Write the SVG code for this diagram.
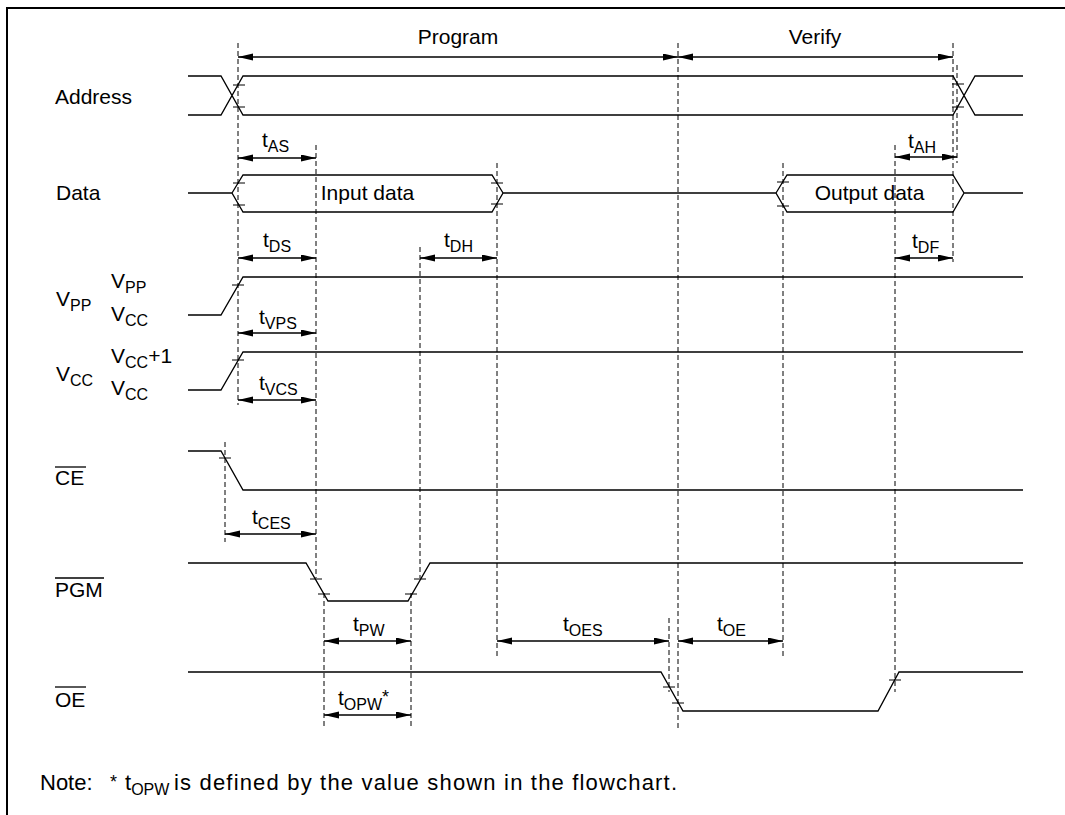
<svg xmlns="http://www.w3.org/2000/svg" width="1065" height="815" viewBox="0 0 1065 815">
<style>
text{font-family:"Liberation Sans",Arial,Helvetica,sans-serif;font-size:21px;fill:#000}
.sub{font-size:16px}
.sig{fill:none;stroke:#000;stroke-width:1.3}
.dash{fill:none;stroke:#000;stroke-width:1;stroke-dasharray:5,3}
.tick{fill:none;stroke:#000;stroke-width:1}
.arr{fill:none;stroke:#000;stroke-width:1.3;marker-start:url(#ah);marker-end:url(#ah)}
.ov{stroke:#000;stroke-width:1.3}
.mid{text-anchor:middle}
.note{font-size:22px}
</style>
<defs>
<marker id="ah" markerUnits="userSpaceOnUse" markerWidth="16" markerHeight="8" refX="15" refY="3.5" orient="auto-start-reverse">
<path d="M0,0 L15,3.5 L0,7 z" fill="#000"/>
</marker>
</defs>
<rect width="1065" height="815" fill="#fff"/>
<path d="M6,8 H1065 M7,8 V815" stroke="#000" stroke-width="2" fill="none"/>

<g id="address">
<text x="55" y="104">Address</text>
<path class="sig" d="M188,76 H221 L243,115 H953 L975,76 H1023 M188,115 H221 L243,76 H953 L975,115 H1023"/>
<path class="tick" d="M233,85 H245 M233,107 H245 M952,84 H964 M952,107 H964"/>
</g>

<g id="data">
<text x="56" y="200">Data</text>
<path class="sig" d="M188,193 H232 M232,193 L243,175 H492 L503,193 L492,212 H243 Z M503,193 H776 M776,193 L787,175 H953 L964,193 L953,212 H787 Z M964,193 H1023"/>
<text class="mid" x="367.5" y="200">Input data</text>
<text class="mid" x="869.5" y="200">Output data</text>
<path class="tick" d="M233,183 H245 M233,205 H245 M491,183 H503 M491,204 H503 M777,182 H789 M777,206 H789"/>
</g>

<g id="vpp">
<text x="56" y="306">V<tspan class="sub" dy="5">PP</tspan></text>
<text x="111" y="288">V<tspan class="sub" dy="5">PP</tspan></text>
<text x="111" y="321">V<tspan class="sub" dy="5">CC</tspan></text>
<path class="sig" d="M188,315 H221 L243,277 H1023"/>
<path class="tick" d="M232,285 H244"/>
</g>

<g id="vcc">
<text x="56" y="381">V<tspan class="sub" dy="5">CC</tspan></text>
<text x="111" y="363">V<tspan class="sub" dy="5">CC</tspan><tspan dy="-5">+1</tspan></text>
<text x="111" y="395">V<tspan class="sub" dy="5">CC</tspan></text>
<path class="sig" d="M188,390 H221 L243,352 H1023"/>
<path class="tick" d="M232,360 H244"/>
</g>

<g id="ce">
<text x="55" y="485">CE</text>
<path class="ov" d="M55,467 H86"/>
<path class="sig" d="M188,451 H221 L243,490 H1023"/>
<path class="tick" d="M219,458 H231"/>
</g>

<g id="pgm">
<text x="55" y="597">PGM</text>
<path class="ov" d="M55,578 H104"/>
<path class="sig" d="M188,563 H306 L328,601 H408 L430,563 H1023"/>
<path class="tick" d="M310,579 H322 M318,594 H330 M405,594 H417 M414,579 H426"/>
</g>

<g id="oe">
<text x="55" y="707">OE</text>
<path class="ov" d="M55,687 H86"/>
<path class="sig" d="M188,672 H661 L683,711 H878 L899,672 H1023"/>
<path class="tick" d="M663,687 H675 M672,703 H684 M889,680 H901"/>
</g>

<g id="guides">
<path class="dash" d="M238,43 V405 M678,43 V728 M953,43 V262 M957,65 V163 M316,145 V578 M497,163 V658 M420,247 V578 M895,145 V692 M783,163 V658 M225,442 V542 M324,593 V728 M411,593 V728 M669,618 V692"/>
</g>

<g id="connectors">
<path class="arr" d="M238,57 H678"/>
<path class="arr" d="M678,57 H953"/>
<path class="arr" d="M238,158 H316"/>
<path class="arr" d="M895,157 H957"/>
<path class="arr" d="M238,258 H316"/>
<path class="arr" d="M420,258 H497"/>
<path class="arr" d="M895,258 H953"/>
<path class="arr" d="M238,333 H316"/>
<path class="arr" d="M238,400 H316"/>
<path class="arr" d="M225,534 H316"/>
<path class="arr" d="M324,641 H411"/>
<path class="arr" d="M497,641 H669"/>
<path class="arr" d="M678,641 H783"/>
<path class="arr" d="M324,715 H411"/>
</g>

<g id="labels">
<text class="mid" x="458" y="44">Program</text>
<text class="mid" x="815" y="44">Verify</text>
<text x="262" y="147">t<tspan class="sub" dy="5">AS</tspan></text>
<text x="908" y="148">t<tspan class="sub" dy="5">AH</tspan></text>
<text x="263" y="247">t<tspan class="sub" dy="5">DS</tspan></text>
<text x="444" y="247">t<tspan class="sub" dy="5">DH</tspan></text>
<text x="912" y="248">t<tspan class="sub" dy="5">DF</tspan></text>
<text x="259" y="324">t<tspan class="sub" dy="5">VPS</tspan></text>
<text x="259" y="390">t<tspan class="sub" dy="5">VCS</tspan></text>
<text x="252" y="524">t<tspan class="sub" dy="5">CES</tspan></text>
<text x="353" y="631">t<tspan class="sub" dy="5">PW</tspan></text>
<text x="563" y="631">t<tspan class="sub" dy="5">OES</tspan></text>
<text x="717" y="631">t<tspan class="sub" dy="5">OE</tspan></text>
<text x="338" y="705">t<tspan class="sub" dy="5">OPW</tspan><tspan dy="-7" style="font-size:18px">*</tspan></text>
</g>

<g id="note">
<text class="note" x="40" y="790">Note:</text>
<text class="note" x="110" y="788" style="font-size:18px">*</text>
<text class="note" x="125" y="790">t<tspan dy="5" style="font-size:16px">OPW</tspan></text>
<text class="note" x="174" y="790" textLength="503" lengthAdjust="spacing">is defined by the value shown in the flowchart.</text>
</g>
</svg>
